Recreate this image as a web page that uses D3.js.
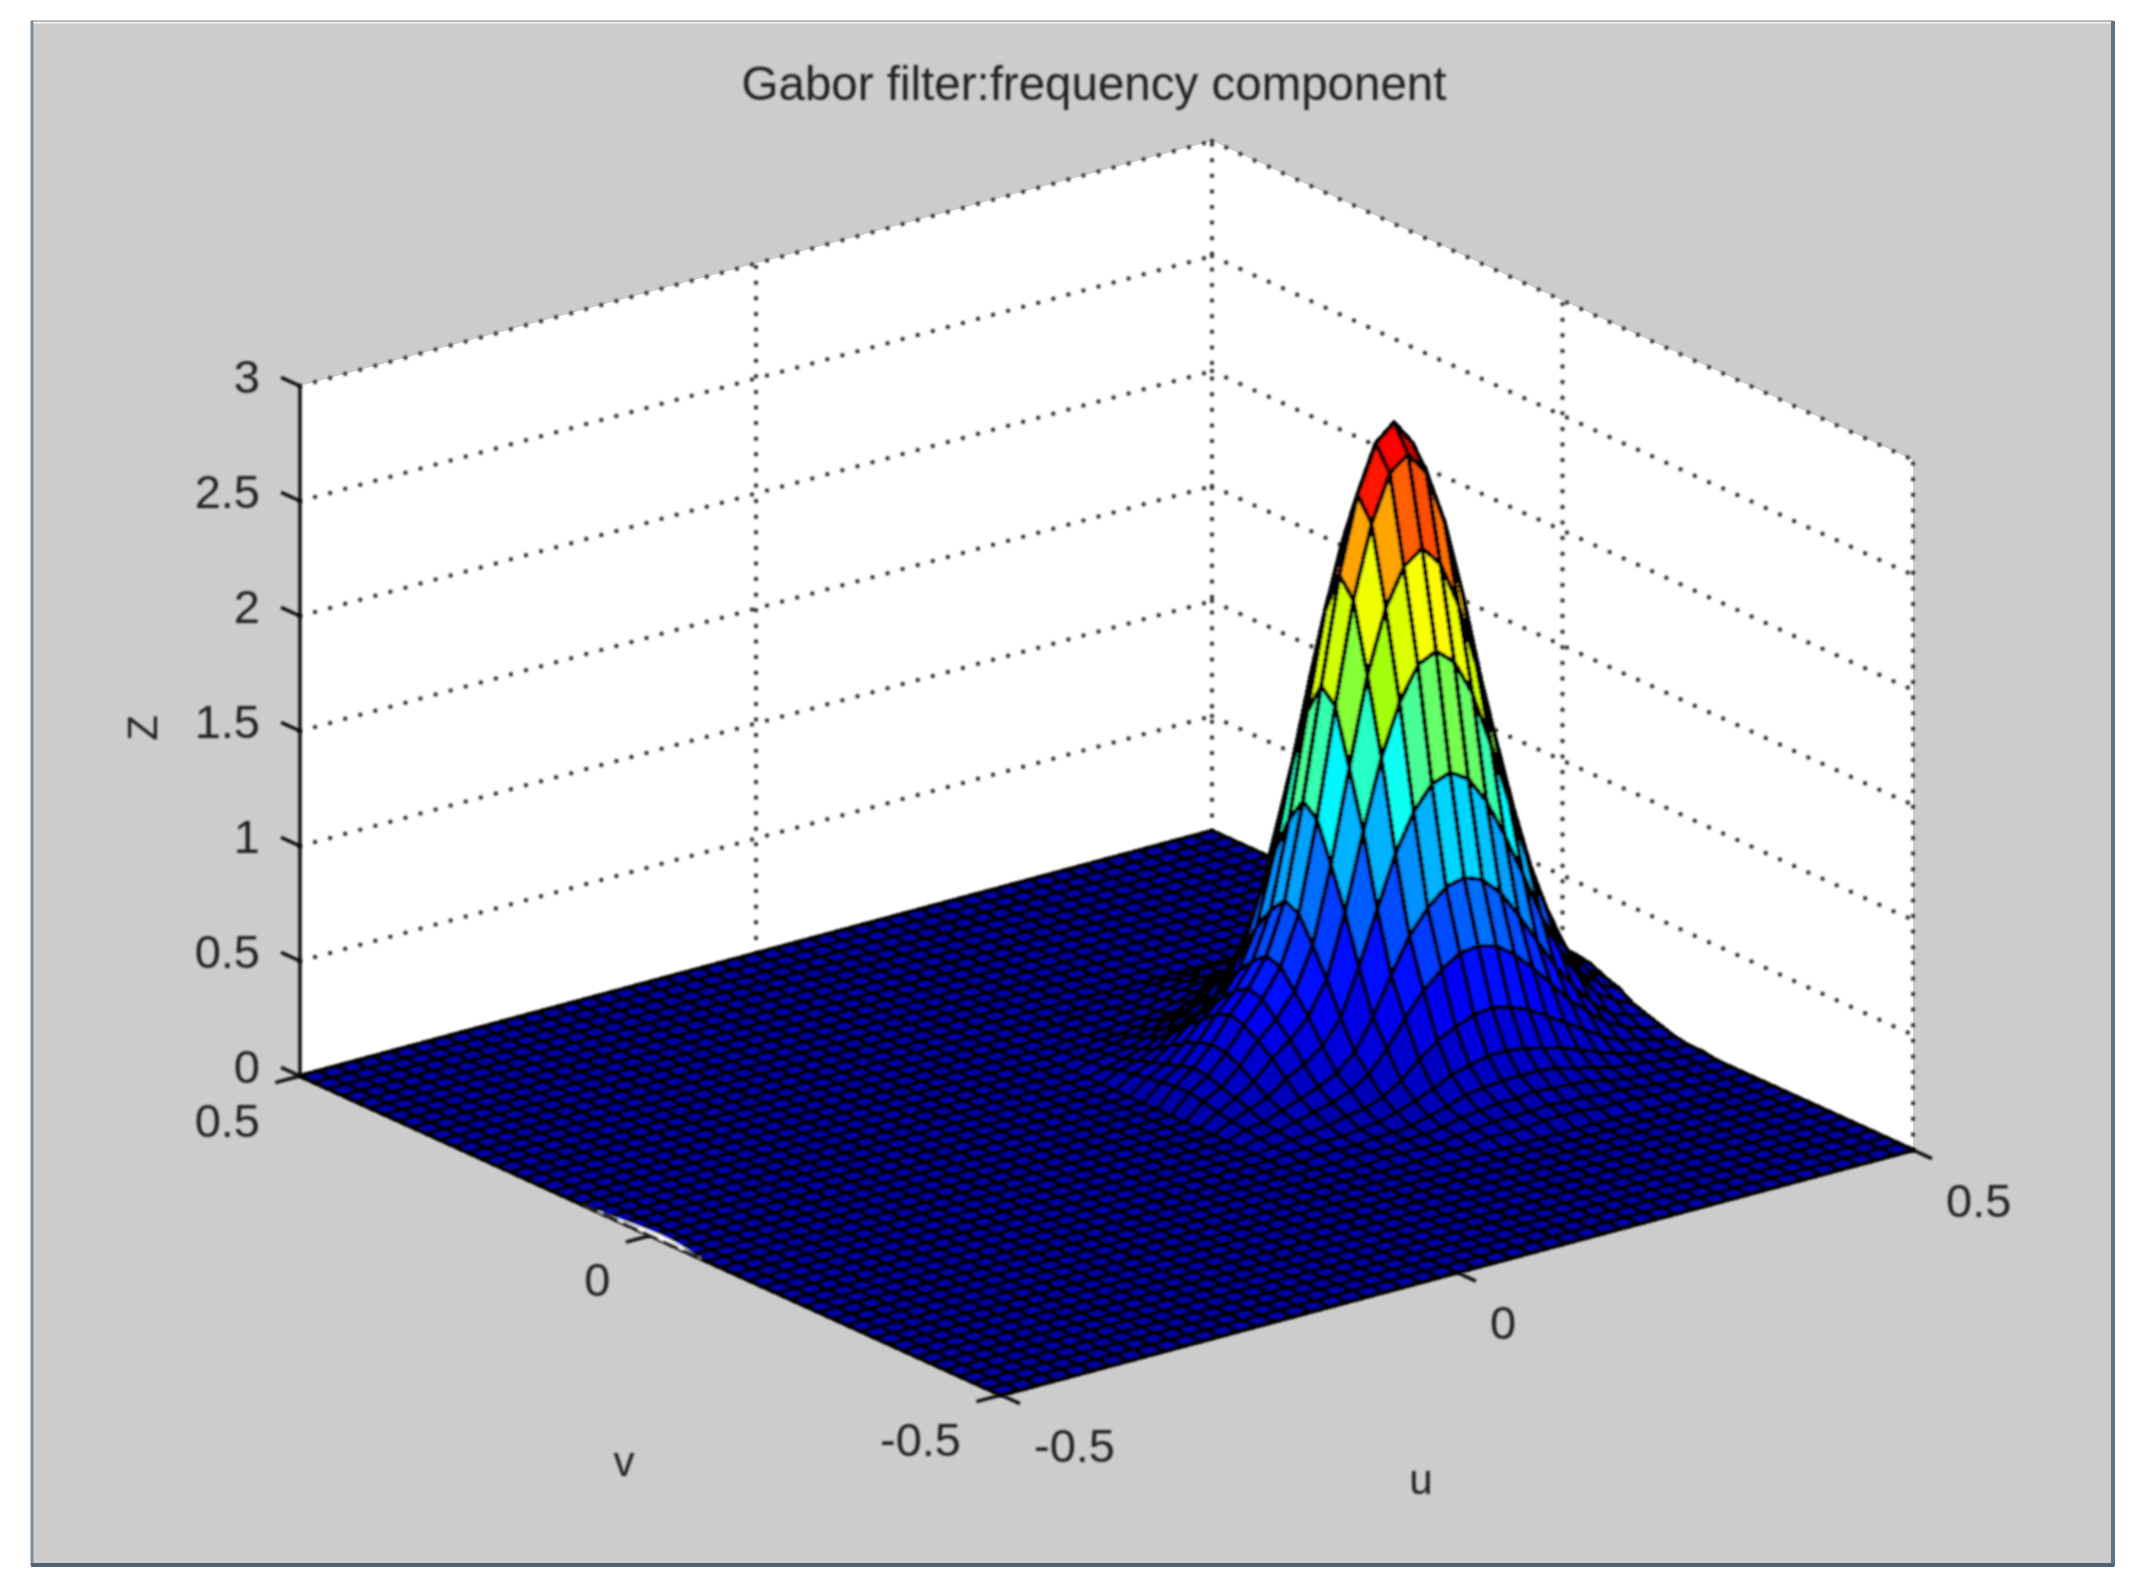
<!DOCTYPE html>
<html>
<head>
<meta charset="utf-8">
<title>Gabor filter</title>
<script src="https://cdnjs.cloudflare.com/ajax/libs/d3/7.8.5/d3.min.js"></script>
<style>
    html, body { margin: 0; background: #fff; }
    text { font-family: "Liberation Sans", Arial, sans-serif; fill: #222; }
</style>
</head>
<body>
<div id="chart"></div>
<script>
// Data //
const titleText = 'Gabor filter:frequency component'
const uTicks = [-0.5, 0, 0.5]
const vTicks = [0.5, 0, -0.5]
const zTicks = [0, 0.5, 1, 1.5, 2, 2.5, 3]
const gridPoints = d3.range(51)

// the surface is flat (z = 0) outside this block
const bumpFirstU = 28
const bumpFirstV = 12
const bumpRows = [
    [0,0,0,0,0,.01,.01,.01,.02,.02,.02,.03,.03,.03,.02,.02,.02,.01,.01,.01,0,0,0],
    [0,0,0,.01,.01,.01,.01,.02,.03,.04,.04,.04,.05,.04,.04,.03,.03,.02,.01,.01,.01,0,0],
    [0,0,.01,.01,.01,.02,.02,.03,.05,.06,.07,.07,.08,.07,.07,.06,.04,.03,.02,.02,.01,.01,0],
    [0,.01,.01,.01,.02,.02,.03,.05,.07,.10,.11,.12,.12,.12,.11,.09,.07,.05,.04,.03,.02,.01,.01],
    [.01,.01,.02,.02,.03,.04,.06,.09,.12,.16,.18,.20,.20,.19,.17,.15,.12,.09,.06,.04,.03,.02,.01],
    [.01,.02,.03,.04,.06,.07,.10,.15,.22,.28,.32,.35,.36,.34,.31,.26,.21,.16,.11,.07,.05,.03,.02],
    [.02,.03,.05,.07,.09,.12,.17,.26,.37,.47,.54,.59,.60,.58,.52,.44,.35,.26,.19,.12,.08,.05,.04],
    [.03,.04,.07,.10,.13,.17,.24,.37,.53,.68,.78,.85,.87,.84,.76,.64,.51,.38,.27,.18,.11,.08,.06],
    [.04,.07,.10,.16,.20,.26,.36,.56,.79,1.01,1.17,1.27,1.30,1.25,1.13,.96,.77,.57,.40,.27,.17,.12,.08],
    [.05,.09,.14,.22,.28,.36,.50,.77,1.10,1.40,1.62,1.76,1.80,1.73,1.57,1.33,1.06,.79,.56,.37,.23,.16,.12],
    [.07,.11,.18,.27,.34,.44,.62,.95,1.35,1.73,2.00,2.16,2.22,2.13,1.93,1.64,1.31,.98,.69,.46,.29,.20,.14],
    [.08,.13,.21,.31,.40,.52,.73,1.12,1.59,2.03,2.34,2.54,2.60,2.50,2.26,1.92,1.53,1.14,.81,.54,.34,.23,.17],
    [.08,.14,.22,.33,.42,.54,.76,1.17,1.65,2.11,2.44,2.64,2.71,2.60,2.36,2.01,1.60,1.19,.84,.56,.35,.24,.18],
    [.07,.12,.20,.30,.38,.49,.69,1.06,1.51,1.93,2.22,2.41,2.47,2.37,2.15,1.83,1.46,1.09,.77,.51,.32,.22,.16],
    [.06,.10,.17,.25,.32,.42,.59,.90,1.27,1.63,1.88,2.04,2.09,2.01,1.82,1.55,1.23,.92,.65,.43,.27,.19,.14],
    [.05,.08,.13,.20,.25,.33,.46,.70,.99,1.27,1.47,1.59,1.63,1.56,1.42,1.21,.96,.72,.51,.34,.21,.15,.11],
    [.04,.06,.09,.14,.18,.23,.33,.50,.71,.91,1.05,1.14,1.17,1.12,1.02,.87,.69,.51,.36,.24,.15,.11,.08],
    [.02,.04,.06,.09,.12,.15,.21,.33,.46,.59,.68,.74,.76,.73,.66,.56,.45,.33,.24,.16,.10,.07,.05],
    [.02,.03,.04,.06,.08,.11,.15,.23,.33,.42,.49,.53,.54,.52,.47,.40,.32,.24,.17,.11,.07,.05,.04],
    [.01,.02,.03,.04,.05,.07,.09,.14,.20,.25,.29,.32,.33,.31,.28,.24,.19,.14,.10,.07,.04,.03,.02],
    [.01,.01,.02,.02,.03,.04,.05,.08,.12,.15,.17,.19,.19,.18,.17,.14,.11,.08,.06,.04,.02,.02,.01],
    [0,.01,.01,.01,.02,.02,.03,.05,.07,.10,.11,.12,.12,.12,.11,.09,.07,.05,.04,.03,.02,.01,.01],
    [0,0,.01,.01,.01,.02,.02,.03,.05,.06,.07,.07,.08,.07,.07,.06,.04,.03,.02,.02,.01,.01,0],
    [0,0,0,.01,.01,.01,.01,.02,.03,.04,.04,.04,.05,.04,.04,.03,.03,.02,.01,.01,.01,0,0],
    [0,0,0,0,0,.01,.01,.01,.02,.02,.02,.03,.03,.03,.02,.02,.02,.01,.01,.01,0,0,0],
]

const jetStops = [0, 0.125, 0.36, 0.53, 0.66, 0.89, 0.94, 1]
const jetColors = ['#0000a6', '#0000ff', '#00ffff', '#aaff00', '#ffff00', '#ff0000', '#ff0000', '#900000']

// white gap along the front left edge of the surface, as [u, v]
const edgeGap = [[-0.5, 0.096], [-0.494, 0.03], [-0.491, 0], [-0.494, -0.04], [-0.5, -0.075]]

// Scales //
const stepToU = d3.scaleLinear([0, 50], [-0.5, 0.5])
const stepToV = d3.scaleLinear([0, 50], [-0.5, 0.5])
const xFromU = d3.scaleLinear([-0.5, 0.5], [1001, 1913])
const xFromV = d3.scaleLinear([-0.5, 0.5], [0, -701])
const yFromU = d3.scaleLinear([-0.5, 0.5], [1395, 1150])
const yFromV = d3.scaleLinear([-0.5, 0.5], [0, -319])
const yFromZ = d3.scaleLinear([0, 3], [0, -690])

const project = (u, v, z) => [xFromU(u) + xFromV(v), yFromU(u) + yFromV(v) + yFromZ(z)]

const zAt = (i, j) => {
    const row = bumpRows[j - bumpFirstV]
    const value = row && row[i - bumpFirstU]
    return value === undefined ? 0 : value
}

const zMax = d3.max(bumpRows.flat())
const jet = d3.scaleLinear(jetStops, jetColors)
const faceColor = d3.scaleQuantize([0, zMax], d3.range(64).map(k => jet((k + 0.5) / 64)))

// Drawers //
const svg = d3.select('#chart').append('svg')
    .attr('width', 2135)
    .attr('height', 1595)
    .style('display', 'block')

const defs = svg.append('defs')
defs.append('filter').attr('id', 'soft')
    .attr('filterUnits', 'userSpaceOnUse')
    .attr('x', 0).attr('y', 0)
    .attr('width', 2135).attr('height', 1595)
    .append('feGaussianBlur').attr('stdDeviation', 0.8)

const line = d3.line()

const drawFrame = () => {
    svg.append('rect')
        .attr('x', 31).attr('y', 21)
        .attr('width', 2082).attr('height', 1544)
        .attr('fill', '#cccccc')
    const edges = [
        [[31, 22], [2113, 22], '#e6e6e6', 4],
        [[31, 21], [2113, 21], '#a9b0b6', 1.5],
        [[32, 21], [32, 1565], '#7a8da0', 3],
        [[2113, 21], [2113, 1566], '#5d7386', 4],
        [[31, 1565], [2114, 1565], '#4f6577', 4],
    ]
    svg.selectAll('.edge').data(edges).enter().append('line')
        .attr('class', 'edge')
        .attr('x1', d => d[0][0]).attr('y1', d => d[0][1])
        .attr('x2', d => d[1][0]).attr('y2', d => d[1][1])
        .attr('stroke', d => d[2])
        .attr('stroke-width', d => d[3])
}

const drawWalls = () => {
    const wall = [
        project(-0.5, 0.5, 0), project(0.5, 0.5, 0), project(0.5, -0.5, 0),
        project(0.5, -0.5, 3), project(0.5, 0.5, 3), project(-0.5, 0.5, 3),
    ]
    svg.append('path').attr('d', line(wall) + 'Z').attr('fill', '#fff')

    const gridLines = []
    zTicks.filter(z => z > 0).forEach(z => {
        gridLines.push([project(-0.5, 0.5, z), project(0.5, 0.5, z)])
        gridLines.push([project(0.5, 0.5, z), project(0.5, -0.5, z)])
    })
    gridLines.push([project(0, 0.5, 0), project(0, 0.5, 3)])
    gridLines.push([project(0.5, 0.5, 0), project(0.5, 0.5, 3)])
    gridLines.push([project(0.5, 0, 0), project(0.5, 0, 3)])
    gridLines.push([project(0.5, -0.5, 0), project(0.5, -0.5, 3)])

    svg.append('g').attr('filter', 'url(#soft)')
        .selectAll('path').data(gridLines).enter().append('path')
        .attr('d', line)
        .attr('fill', 'none')
        .attr('stroke', '#333')
        .attr('stroke-width', 4.5)
        .attr('stroke-linecap', 'round')
        .attr('stroke-dasharray', '0 15.6')
}

const drawAxes = () => {
    const axisGroup = svg.append('g')
        .attr('fill', 'none')
        .attr('stroke', '#111')
        .attr('stroke-width', 3.5)
        .attr('filter', 'url(#soft)')
    axisGroup.append('path').attr('d', line([project(-0.5, 0.5, 0), project(-0.5, 0.5, 3)]))

    zTicks.forEach(z => {
        axisGroup.append('path').attr('d', line([project(-0.5, 0.5, z), project(-0.5, 0.527, z)]))
    })
    vTicks.forEach(v => {
        axisGroup.append('path').attr('d', line([project(-0.5, v, 0), project(-0.527, v, 0)]))
    })
    uTicks.forEach(u => {
        axisGroup.append('path').attr('d', line([project(u, -0.5, 0), project(u, -0.527, 0)]))
    })
}

const drawSurface = () => {
    const faces = []
    // painter's order: the back corner is u = v = 0.5
    gridPoints.slice(0, 50).reverse().forEach(i => {
        gridPoints.slice(0, 50).reverse().forEach(j => {
            faces.push({ i, j })
        })
    })
    const corner = (i, j) => project(stepToU(i), stepToV(j), zAt(i, j))

    const surface = svg.append('g').attr('filter', 'url(#soft)')
    surface.selectAll('path').data(faces).enter().append('path')
        .attr('d', d => line([
            corner(d.i, d.j), corner(d.i + 1, d.j),
            corner(d.i + 1, d.j + 1), corner(d.i, d.j + 1),
        ]) + 'Z')
        .attr('fill', d => faceColor(zAt(d.i, d.j)))
        .attr('stroke', '#000')
        .attr('stroke-width', 4.6)
        .attr('stroke-linejoin', 'round')
        .attr('shape-rendering', 'crispEdges')

    const gapPoints = edgeGap.map(d => project(d[0], d[1], 0))
    surface.append('path')
        .attr('d', line.curve(d3.curveBasis)(gapPoints) + 'Z')
        .attr('fill', '#fff')
    line.curve(d3.curveLinear)
    surface.append('path')
        .attr('d', line([gapPoints[0], gapPoints[4]]))
        .attr('stroke', '#222')
        .attr('stroke-width', 3)
        .attr('stroke-dasharray', '16 6')
}

const drawLabels = () => {
    const labels = svg.append('g').attr('filter', 'url(#soft)').attr('font-size', 47)

    labels.append('text')
        .attr('x', 1094).attr('y', 83)
        .attr('text-anchor', 'middle').attr('dominant-baseline', 'central')
        .attr('font-size', 47.5)
        .text(titleText)

    labels.selectAll('.z').data(zTicks).enter().append('text')
        .attr('x', project(-0.5, 0.5, 0)[0] - 40)
        .attr('y', d => project(-0.5, 0.5, d)[1] - 10)
        .attr('text-anchor', 'end').attr('dominant-baseline', 'central')
        .text(d => d)

    labels.selectAll('.v').data(vTicks).enter().append('text')
        .attr('x', d => project(-0.5, d, 0)[0] - 40)
        .attr('y', d => project(-0.5, d, 0)[1] + 44)
        .attr('text-anchor', 'end').attr('dominant-baseline', 'central')
        .text(d => d)

    labels.selectAll('.u').data(uTicks).enter().append('text')
        .attr('x', d => project(d, -0.5, 0)[0] + 33)
        .attr('y', d => project(d, -0.5, 0)[1] + 50)
        .attr('dominant-baseline', 'central')
        .text(d => d)

    labels.append('text').attr('x', 624).attr('y', 1461)
        .attr('text-anchor', 'middle').attr('dominant-baseline', 'central')
        .attr('font-size', 42).text('v')
    labels.append('text').attr('x', 1421).attr('y', 1479)
        .attr('text-anchor', 'middle').attr('dominant-baseline', 'central')
        .attr('font-size', 42).text('u')
    labels.append('text')
        .attr('transform', 'translate(142,728) rotate(-90)')
        .attr('text-anchor', 'middle').attr('dominant-baseline', 'central')
        .attr('font-size', 42).text('Z')
}

// Initializer //
drawFrame()
drawWalls()
drawAxes()
drawSurface()
drawLabels()
</script>
</body>
</html>
